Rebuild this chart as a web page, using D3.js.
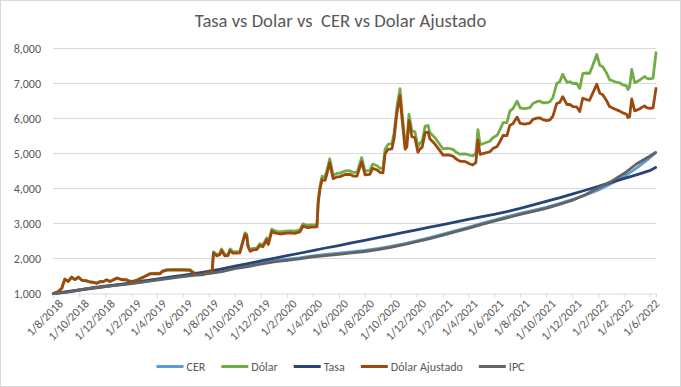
<!DOCTYPE html>
<html>
<head>
<meta charset="utf-8">
<script src="https://cdn.jsdelivr.net/npm/d3@7"></script>
<style>
body { margin: 0; background: #fff; }
text { font-family: Calibri, Carlito, "Liberation Sans", Arial, sans-serif; fill: #595959; }
</style>
</head>
<body>
<svg width="681" height="387"></svg>
<script>
// fechas mensuales (CER, Tasa, IPC)
var fechasMes = ["2018-08-01","2018-09-01","2018-10-01","2018-11-01","2018-12-01",
  "2019-01-01","2019-02-01","2019-03-01","2019-04-01","2019-05-01","2019-06-01","2019-07-01","2019-08-01","2019-09-01","2019-10-01","2019-11-01","2019-12-01",
  "2020-01-01","2020-02-01","2020-03-01","2020-04-01","2020-05-01","2020-06-01","2020-07-01","2020-08-01","2020-09-01","2020-10-01","2020-11-01","2020-12-01",
  "2021-01-01","2021-02-01","2021-03-01","2021-04-01","2021-05-01","2021-06-01","2021-07-01","2021-08-01","2021-09-01","2021-10-01","2021-11-01","2021-12-01",
  "2022-01-01","2022-02-01","2022-03-01","2022-04-01","2022-05-01","2022-06-01","2022-06-15"];

var cer = [1000,1035,1095,1165,1215,
  1250,1290,1335,1395,1450,1495,1540,1585,1650,1730,1800,1865,
  1930,1980,2020,2075,2115,2150,2190,2230,2285,2345,2420,2505,
  2595,2695,2790,2890,2995,3100,3195,3290,3375,3460,3570,3680,
  3810,3960,4130,4330,4580,4870,5020];

var tasa = [1000,1050,1100,1150,1200,
  1255,1305,1360,1410,1465,1520,1575,1630,1705,1780,1855,1930,
  2005,2080,2150,2225,2300,2370,2445,2520,2595,2670,2745,2820,
  2895,2970,3040,3115,3190,3262,3340,3430,3530,3630,3730,3840,
  3950,4060,4170,4280,4390,4510,4600];

var ipc = [1000,1040,1100,1160,1200,
  1240,1280,1330,1385,1435,1480,1525,1570,1625,1710,1770,1840,
  1905,1950,1990,2050,2085,2120,2160,2200,2255,2315,2395,2480,
  2570,2670,2760,2860,2970,3070,3160,3260,3345,3430,3545,3660,
  3820,4020,4190,4420,4700,4920,5030];

// fechas del dolar
var fechasDolar = ["2018-08-01","2018-08-12","2018-08-21","2018-08-28","2018-09-05","2018-09-13","2018-09-21","2018-09-29","2018-10-07","2018-10-18",
  "2018-10-26","2018-11-02","2018-11-11","2018-11-19","2018-11-26","2018-12-04","2018-12-12","2018-12-28","2019-01-09","2019-01-20",
  "2019-01-28","2019-02-04","2019-02-16","2019-03-04","2019-03-16","2019-04-01","2019-04-08","2019-04-15","2019-04-25","2019-05-14",
  "2019-06-02","2019-06-18","2019-06-25","2019-07-04","2019-07-18","2019-07-28","2019-08-09","2019-08-12","2019-08-20","2019-08-27",
  "2019-08-31","2019-09-08","2019-09-15","2019-09-20","2019-09-27","2019-10-05","2019-10-13","2019-10-25","2019-10-29","2019-11-01",
  "2019-11-06","2019-11-13","2019-11-22","2019-11-29","2019-12-06","2019-12-15","2019-12-19","2019-12-27","2020-01-03","2020-01-15",
  "2020-01-27","2020-02-08","2020-02-19","2020-03-02","2020-03-09","2020-03-19","2020-03-30","2020-04-11","2020-04-14","2020-04-18",
  "2020-04-23","2020-04-30","2020-05-04","2020-05-11","2020-05-19","2020-05-28","2020-06-04","2020-06-16","2020-06-27","2020-07-05",
  "2020-07-14","2020-07-25","2020-08-02","2020-08-13","2020-08-20","2020-08-30","2020-09-06","2020-09-13","2020-09-18","2020-09-25",
  "2020-10-04","2020-10-09","2020-10-16","2020-10-23","2020-10-28","2020-11-04","2020-11-08","2020-11-13","2020-11-20","2020-11-27",
  "2020-12-04","2020-12-09","2020-12-14","2020-12-21","2020-12-28","2021-01-01","2021-01-13","2021-01-25","2021-02-01","2021-02-13",
  "2021-02-24","2021-03-06","2021-03-13","2021-03-25","2021-04-05","2021-04-12","2021-04-19","2021-04-24","2021-04-29","2021-05-10",
  "2021-05-22","2021-05-29","2021-06-08","2021-06-15","2021-06-22","2021-07-01","2021-07-08","2021-07-15","2021-07-25","2021-08-01",
  "2021-08-12","2021-08-24","2021-08-31","2021-09-09","2021-09-16","2021-09-23","2021-10-03","2021-10-10","2021-10-17","2021-10-26",
  "2021-11-02","2021-11-09","2021-11-19","2021-11-26","2021-12-03","2021-12-12","2021-12-19","2021-12-26","2022-01-04","2022-01-11",
  "2022-01-18","2022-01-28","2022-02-04","2022-02-11","2022-02-20","2022-02-27","2022-03-06","2022-03-11","2022-03-23","2022-03-30",
  "2022-04-08","2022-04-11","2022-04-15","2022-04-20","2022-04-27","2022-05-02","2022-05-09","2022-05-20","2022-05-25","2022-06-01",
  "2022-06-09","2022-06-16"];

var dolar = [1000,1050,1150,1410,1345,1470,1395,1470,1380,1365,
  1330,1325,1295,1345,1340,1395,1345,1445,1400,1395,
  1350,1350,1400,1495,1570,1580,1575,1650,1685,1690,
  1690,1685,1615,1555,1560,1630,1650,2190,2110,2150,
  2270,2110,2120,2270,2190,2195,2200,2730,2700,2390,
  2250,2290,2300,2420,2380,2590,2450,2840,2790,2760,
  2780,2790,2780,2820,2990,2950,2960,2970,3680,4060,
  4350,4330,4500,4850,4380,4430,4440,4500,4510,4460,
  4460,4880,4500,4520,4700,4650,4580,4570,5130,5260,
  5280,5580,6360,6850,6150,5280,5350,6120,5650,5620,
  5200,5300,5350,5780,5800,5600,5450,5250,5130,5150,
  5120,5020,4980,4990,4950,4930,5000,5680,5250,5300,
  5350,5450,5520,5690,5880,5880,6210,6280,6495,6300,
  6280,6310,6430,6480,6500,6450,6450,6480,6600,7000,
  7050,7260,7030,7050,7000,7000,6860,7280,7300,7290,
  7500,7830,7520,7480,7300,7110,7080,7050,7020,6960,
  6930,6830,6900,7400,7020,7050,7100,7200,7150,7130,
  7150,7880];

var dolarAjustado = [1000,1050,1150,1410,1345,1468,1393,1467,1377,1362,
  1327,1322,1292,1341,1336,1390,1340,1438,1393,1388,
  1343,1343,1392,1486,1560,1565,1560,1634,1668,1670,
  1668,1661,1590,1530,1535,1603,1622,2153,2074,2113,
  2231,2073,2082,2230,2151,2155,2160,2680,2650,2346,
  2208,2247,2256,2374,2333,2538,2400,2778,2730,2700,
  2720,2730,2720,2758,2924,2885,2895,2905,3600,3970,
  4254,4235,4400,4740,4282,4330,4340,4400,4405,4355,
  4355,4760,4390,4405,4580,4530,4460,4450,4990,5120,
  5135,5425,6180,6650,5970,5125,5190,5940,5480,5450,
  5035,5130,5180,5595,5610,5420,5270,5075,4955,4960,
  4925,4825,4780,4770,4700,4675,4740,5380,4975,5010,
  5050,5140,5200,5350,5520,5510,5810,5850,6040,5860,
  5840,5865,5975,6010,6020,5970,5940,5960,6070,6430,
  6460,6620,6400,6400,6340,6330,6200,6580,6540,6520,
  6710,6980,6720,6680,6510,6340,6300,6270,6210,6160,
  6120,6030,6050,6560,6220,6240,6280,6360,6310,6290,
  6300,6860];

var yTicks = [1000,2000,3000,4000,5000,6000,7000,8000];
var xTicks = ["2018-08-01","2018-10-01","2018-12-01","2019-02-01","2019-04-01","2019-06-01","2019-08-01","2019-10-01",
  "2019-12-01","2020-02-01","2020-04-01","2020-06-01","2020-08-01","2020-10-01","2020-12-01","2021-02-01",
  "2021-04-01","2021-06-01","2021-08-01","2021-10-01","2021-12-01","2022-02-01","2022-04-01","2022-06-01"];

var titulo = "Tasa vs Dolar vs  CER vs Dolar Ajustado";

var parse = d3.timeParse("%Y-%m-%d");

var series = [
  {name: "CER", fechas: fechasMes, valores: cer, color: "#5B9BD5"},
  {name: "Dólar", fechas: fechasDolar, valores: dolar, color: "#70AD47"},
  {name: "Tasa", fechas: fechasMes, valores: tasa, color: "#264478"},
  {name: "Dólar Ajustado", fechas: fechasDolar, valores: dolarAjustado, color: "#9E480E"},
  {name: "IPC", fechas: fechasMes, valores: ipc, color: "#636363"}
];

var svg = d3.select('svg');

svg.append('rect')
  .attr('x', 0.5).attr('y', 0.5)
  .attr('width', 680).attr('height', 386)
  .attr('fill', '#fff')
  .attr('stroke', '#d9d9d9');

var scaleX = d3.scaleTime()
  .domain([parse("2018-08-01"), parse("2022-06-16")])
  .range([53.3, 656]);
var scaleY = d3.scaleLinear().domain([1000, 8000]).range([293.5, 48.5]);

// grid
svg.append('g').selectAll('line')
  .data(yTicks.slice(1))
  .enter()
  .append('line')
  .attr('x1', 53).attr('x2', 656)
  .attr('y1', function(d){ return scaleY(d); })
  .attr('y2', function(d){ return scaleY(d); })
  .attr('stroke', '#d9d9d9');

// eje y
var gy = svg.append('g')
  .attr('transform', 'translate(53,0)')
  .call(d3.axisLeft(scaleY).tickValues(yTicks).tickFormat(d3.format(",")).tickSize(0).tickPadding(12));
gy.select('.domain').remove();
gy.selectAll('text').style('font-size', '12px').style('fill', '#595959');

// eje x
var gx = svg.append('g')
  .attr('transform', 'translate(0,293.5)')
  .call(d3.axisBottom(scaleX)
    .tickValues(xTicks.map(parse))
    .tickFormat(d3.timeFormat("%-d/%-m/%Y"))
    .tickSize(4));
gx.select('.domain').attr('stroke', '#d9d9d9');
gx.selectAll('.tick line').attr('stroke', '#d9d9d9');
gx.selectAll('text')
  .attr('x', 0).attr('y', 0).attr('dy', '0.35em')
  .attr('transform', 'translate(7,8) rotate(-45)')
  .style('text-anchor', 'end')
  .style('font-size', '12px')
  .style('fill', '#595959');

// lineas
var line = d3.line()
  .x(function(d){ return scaleX(d.fecha); })
  .y(function(d){ return scaleY(d.valor); });

series.forEach(function(s){
  var pts = s.fechas.map(function(f, i){ return {fecha: parse(f), valor: s.valores[i]}; });
  svg.append('path')
    .datum(pts)
    .attr('d', line)
    .attr('fill', 'none')
    .attr('stroke', s.color)
    .attr('stroke-width', 2.8)
    .attr('stroke-linejoin', 'round')
    .attr('stroke-linecap', 'round');
});

// titulo
svg.append('text')
  .attr('x', 340.5).attr('y', 20)
  .attr('dy', '0.35em')
  .style('text-anchor', 'middle')
  .style('font-size', '18.67px')
  .style('white-space', 'pre')
  .text(titulo);

// leyenda
var legend = svg.append('g');
var lx = 0;
series.forEach(function(s){
  var item = legend.append('g').attr('transform', 'translate(' + lx + ',0)');
  item.append('line')
    .attr('x1', 0).attr('x2', 27)
    .attr('stroke', s.color).attr('stroke-width', 3);
  var t = item.append('text')
    .attr('x', 30).attr('dy', '0.35em')
    .style('font-size', '12px')
    .text(s.name);
  lx += 30 + t.node().getComputedTextLength() + 16;
});
lx -= 16;
legend.attr('transform', 'translate(' + (340.5 - lx / 2) + ',366.5)');
</script>
</body>
</html>
